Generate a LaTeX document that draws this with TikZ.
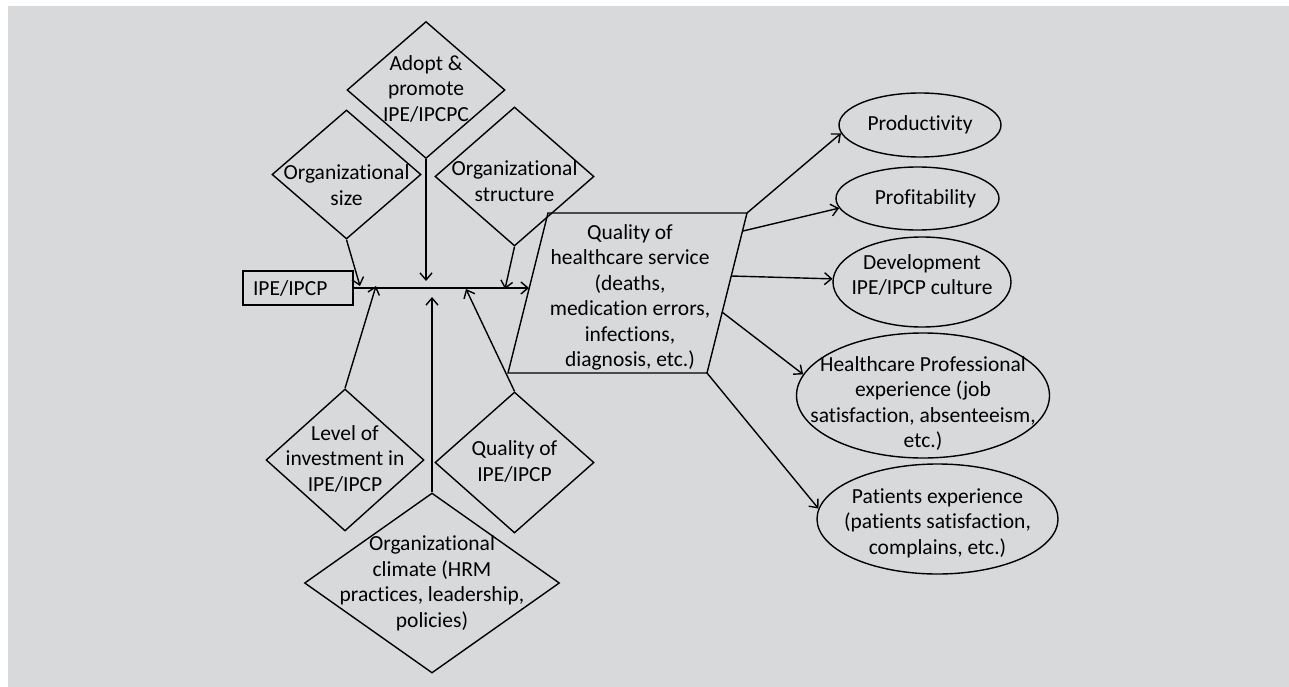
\documentclass[tikz,border=0pt]{standalone}
\usepackage{fontspec}
\setmainfont{Carlito}[Ligatures=CommonOff]
\usetikzlibrary{shapes.geometric,arrows.meta}
\definecolor{panelgray}{RGB}{216,217,219}
\newcommand{\ctext}[2][-6]{\makebox[0pt]{\raisebox{#1pt}[0pt][0pt]{\begin{tabular}{@{}c@{}}#2\end{tabular}}}}

\begin{document}
\begin{tikzpicture}[x=1pt,y=-1pt,line width=1.4pt,
  >={Straight Barb[length=7pt,width=12pt]},
  every node/.style={font=\fontsize{21.5}{25.5}\selectfont,inner sep=0pt},
  dia/.style={draw,shape=diamond},
  oval/.style={draw,shape=ellipse}]
\useasboundingbox (0,0) rectangle (1289,687);
\fill[white] (0,0) rectangle (1289,687);
\fill[panelgray] (8,6) rectangle (1289,687);
\node[draw,text width=90pt,align=left,inner xsep=10pt,minimum height=34pt] (ipe) at (298,288) {IPE/IPCP};
\node[dia,minimum width=158,minimum height=137] (adopt) at (426,90) {\ctext{Adopt \&\\promote\\IPE/IPCPC}};
\node[dia,minimum width=149,minimum height=129] (size) at (346.5,174.5) {\ctext[-18]{Organizational\\size}};
\node[dia,minimum width=159,minimum height=139] (struct) at (514.5,176.5) {\ctext[-12]{Organizational\\structure}};
\node[dia,minimum width=158,minimum height=142] (level) at (345,460) {\ctext{Level of\\investment in\\IPE/IPCP}};
\node[dia,minimum width=159,minimum height=141] (qipe) at (514.5,462.5) {\ctext{Quality of\\IPE/IPCP}};
\node[dia,minimum width=255,minimum height=180] (climate) at (432,583) {\ctext{Organizational\\climate (HRM\\practices, leadership,\\policies)}};
% parallelogram
\coordinate (qtl) at (548,213);
\coordinate (qtr) at (747,213);
\coordinate (qbr) at (707,373);
\coordinate (qbl) at (508,373);
\draw (qtl) -- (qtr) -- (qbr) -- (qbl) -- cycle;
\node (qhs) at (630,297) {\ctext{Quality of\\healthcare service\\(deaths,\\medication errors,\\infections,\\diagnosis, etc.)}};
\node[oval,minimum width=162,minimum height=64] (prod) at (920,125) {\ctext{Productivity}};
\node[oval,minimum width=163,minimum height=63] (profit) at (917.5,198.5) {\ctext{\hspace*{16pt}Profitability}};
\node[oval,minimum width=178,minimum height=90] (devel) at (922,282) {\ctext[0]{Development\\IPE/IPCP culture}};
\node[oval,minimum width=253,minimum height=125] (hpe) at (923,395.5) {\ctext[-14]{Healthcare Professional\\experience (job\\satisfaction, absenteeism,\\etc.)}};
\node[oval,minimum width=241,minimum height=110] (pexp) at (937.5,519) {\ctext[-10]{Patients experience\\(patients satisfaction,\\complains, etc.)}};
% arrow ends
\coordinate (qin) at (529,288);
\coordinate (tsize) at (360,286);
\coordinate (tadopt) at (426,281);
\coordinate (tstruct) at (505,289);
\coordinate (tlevel) at (376,286);
\coordinate (tclimate) at (432,297);
\coordinate (tqipe) at (466,289);
\coordinate (qo2) at (743,231);
\coordinate (qo3) at (731,276);
\coordinate (qo4) at (722,312);
\draw [->] (ipe.east) -- (qin);
\draw [->] (size.south) -- (tsize);
\draw [->] (adopt.south) -- (tadopt);
\draw [->] (struct.south) -- (tstruct);
\draw [->] (level.north) -- (tlevel);
\draw [->] (climate.north) -- (tclimate);
\draw [->] (qipe.north) -- (tqipe);
\draw [->] (qtr) -- (prod.186);
\draw [->] (qo2) -- (profit.187);
\draw [->] (qo3) -- (devel.178);
\draw [->] (qo4) -- (hpe.170);
\draw [->] (qbr) -- (pexp.175);
\end{tikzpicture}
\end{document}
